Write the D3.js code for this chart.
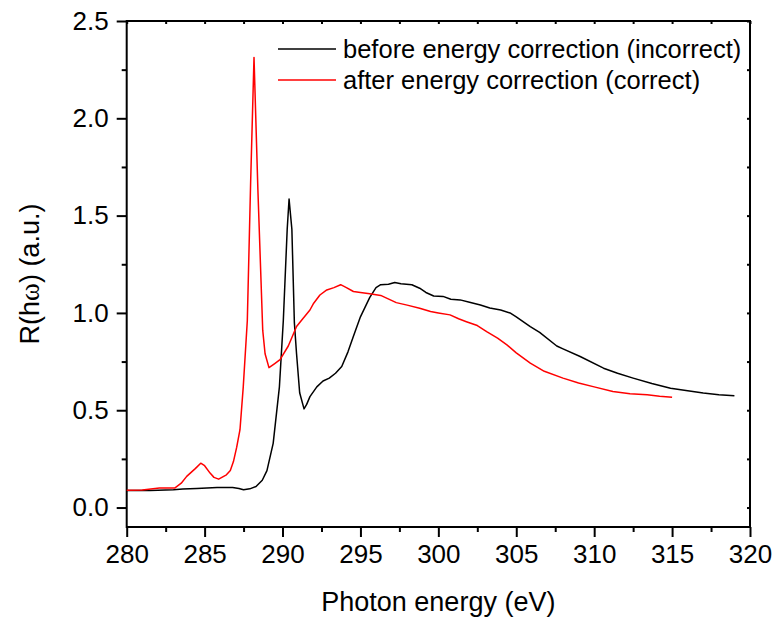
<!DOCTYPE html>
<html>
<head>
<meta charset="utf-8">
<script src="https://cdn.jsdelivr.net/npm/d3@7"></script>
<style>
  body { margin: 0; background: #fff; }
  svg text { font-family: "Liberation Sans", Arial, sans-serif; fill: #000; }
</style>
</head>
<body>
<div id="chart"></div>
<script>
// photon energy (eV) and reflectance for the two curves
var beforeEnergy = [280, 281.5, 283, 283.6, 284.5, 285.8, 286.8, 287.2, 287.5, 287.9, 288.3, 288.7, 289.0, 289.4, 289.8, 290.05, 290.3, 290.42, 290.6, 290.76, 290.9, 291.1, 291.38, 291.55, 291.76, 292.2, 292.6, 293.0, 293.4, 293.8, 294.2, 294.55, 295.0, 295.6, 296.0, 296.3, 296.8, 297.2, 297.6, 298.3, 298.8, 299.2, 299.7, 300.3, 300.8, 301.4, 302.0, 302.7, 303.3, 304.0, 304.6, 305.0, 305.9, 306.5, 307.6, 308.0, 309.1, 310.6, 311.5, 312.5, 313.7, 314.9, 316.0, 317.0, 318.0, 319.0];
var beforeR = [0.087, 0.088, 0.092, 0.095, 0.098, 0.103, 0.103, 0.098, 0.091, 0.096, 0.108, 0.14, 0.19, 0.33, 0.62, 0.96, 1.43, 1.585, 1.43, 0.95, 0.79, 0.59, 0.507, 0.53, 0.57, 0.62, 0.65, 0.665, 0.69, 0.725, 0.80, 0.88, 0.98, 1.08, 1.13, 1.145, 1.147, 1.156, 1.15, 1.145, 1.127, 1.105, 1.087, 1.085, 1.07, 1.067, 1.055, 1.041, 1.025, 1.015, 1.0, 0.98, 0.93, 0.90, 0.83, 0.815, 0.776, 0.716, 0.69, 0.665, 0.637, 0.613, 0.60, 0.588, 0.58, 0.574];

var afterEnergy = [280, 281, 282.1, 283.1, 283.5, 283.85, 284.4, 284.75, 285.0, 285.35, 285.6, 285.9, 286.4, 286.65, 286.85, 287.06, 287.27, 287.48, 287.74, 287.95, 288.17, 288.42, 288.73, 288.88, 289.13, 289.5, 289.84, 290.37, 290.9, 291.3, 291.76, 292.0, 292.4, 292.84, 293.3, 293.73, 294.1, 294.55, 295.0, 295.6, 296.3, 297.3, 298.0, 298.8, 299.5, 300.0, 300.75, 301.3, 301.8, 302.5, 303.1, 303.8, 304.4, 305.0, 305.9, 306.8, 308.0, 309.0, 310.0, 311.2, 312.3, 313.4, 314.2, 315.0];
var afterR = [0.089, 0.09, 0.10, 0.101, 0.125, 0.16, 0.20, 0.228, 0.215, 0.177, 0.155, 0.146, 0.168, 0.19, 0.236, 0.31, 0.40, 0.62, 0.96, 1.66, 2.313, 1.63, 0.91, 0.79, 0.719, 0.74, 0.76, 0.83, 0.93, 0.97, 1.015, 1.05, 1.092, 1.118, 1.13, 1.145, 1.13, 1.11, 1.105, 1.098, 1.09, 1.053, 1.04, 1.024, 1.007, 1.00, 0.99, 0.97, 0.955, 0.935, 0.904, 0.87, 0.836, 0.795, 0.742, 0.70, 0.665, 0.64, 0.62, 0.596, 0.585, 0.579, 0.572, 0.567];

var xTicks = [280, 285, 290, 295, 300, 305, 310, 315, 320];
var yTicks = [0.0, 0.5, 1.0, 1.5, 2.0, 2.5];
var seriesNames = ["before energy correction (incorrect)", "after energy correction (correct)"];
var seriesColors = ["#000000", "#ff0000"];

var W = 776, H = 620;
var margin = { top: 21, right: 26, bottom: 93, left: 126.7 };
var w = W - margin.left - margin.right,
    h = H - margin.top - margin.bottom;

var svg = d3.select("#chart").append("svg")
    .attr("width", W)
    .attr("height", H);

var g = svg.append("g")
    .attr("transform", "translate(" + margin.left + "," + margin.top + ")");

var x = d3.scaleLinear().domain([280, 320]).range([0, w]);
var y = d3.scaleLinear().domain([-0.1, 2.5]).range([h, 0]);

var minorX = d3.range(282.5, 320, 5);
var minorY = d3.range(0.25, 2.5, 0.5);
var allX = d3.range(280, 320.1, 2.5);
var allY = d3.range(0, 2.51, 0.25);

function styleAxis(sel) {
    sel.select(".domain").remove();
    sel.selectAll("line").attr("stroke", "#000").attr("stroke-width", 2);
    sel.selectAll("text").attr("font-size", 26).attr("fill", "#000")
        .attr("font-family", "Liberation Sans, Arial, sans-serif");
}

// bottom axis, major and minor
g.append("g").attr("transform", "translate(0," + h + ")")
    .call(d3.axisBottom(x).tickValues(xTicks).tickSize(10).tickPadding(8).tickFormat(d3.format("d")))
    .call(styleAxis);
g.append("g").attr("transform", "translate(0," + h + ")")
    .call(d3.axisBottom(x).tickValues(minorX).tickSize(5).tickFormat(""))
    .call(styleAxis);

// left axis
g.append("g")
    .call(d3.axisLeft(y).tickValues(yTicks).tickSize(10).tickPadding(8).tickFormat(d3.format(".1f")))
    .call(styleAxis);
g.append("g")
    .call(d3.axisLeft(y).tickValues(minorY).tickSize(5).tickFormat(""))
    .call(styleAxis);

// mirrored inward ticks on top and right
g.append("g")
    .call(d3.axisBottom(x).tickValues(allX).tickSize(3).tickFormat(""))
    .call(styleAxis);
g.append("g").attr("transform", "translate(" + w + ",0)")
    .call(d3.axisLeft(y).tickValues(allY).tickSize(3).tickFormat(""))
    .call(styleAxis);

// frame
g.append("rect")
    .attr("width", w).attr("height", h)
    .attr("fill", "none").attr("stroke", "#000").attr("stroke-width", 2);

var line = d3.line()
    .x(function (d) { return x(d[0]); })
    .y(function (d) { return y(d[1]); });

var series = [
    d3.zip(beforeEnergy, beforeR),
    d3.zip(afterEnergy, afterR)
];

g.selectAll(".curve")
    .data(series)
    .enter().append("path")
    .attr("class", "curve")
    .attr("d", line)
    .attr("fill", "none")
    .attr("stroke", function (d, i) { return seriesColors[i]; })
    .attr("stroke-width", 1.5)
    .attr("stroke-linejoin", "round");

// legend
var legend = svg.append("g").attr("transform", "translate(278,49)");
seriesNames.forEach(function (name, i) {
    var row = legend.append("g").attr("transform", "translate(0," + (i * 31) + ")");
    row.append("line")
        .attr("x1", 0).attr("x2", 58)
        .attr("stroke", seriesColors[i]).attr("stroke-width", 1.5);
    row.append("text")
        .attr("x", 65).attr("dy", "0.35em")
        .attr("font-size", 25.5)
        .text(name);
});

// axis titles
svg.append("text")
    .attr("x", margin.left + w / 2)
    .attr("y", 611)
    .attr("text-anchor", "middle")
    .attr("font-size", 27)
    .text("Photon energy (eV)");

var yt = svg.append("text")
    .attr("transform", "translate(39," + (margin.top + h / 2) + ") rotate(-90)")
    .attr("text-anchor", "middle")
    .attr("font-size", 27);
yt.append("tspan").text("R(h");
yt.append("tspan").attr("font-family", "Liberation Serif, serif").text("ω");
yt.append("tspan").text(") (a.u.)");
</script>
</body>
</html>
